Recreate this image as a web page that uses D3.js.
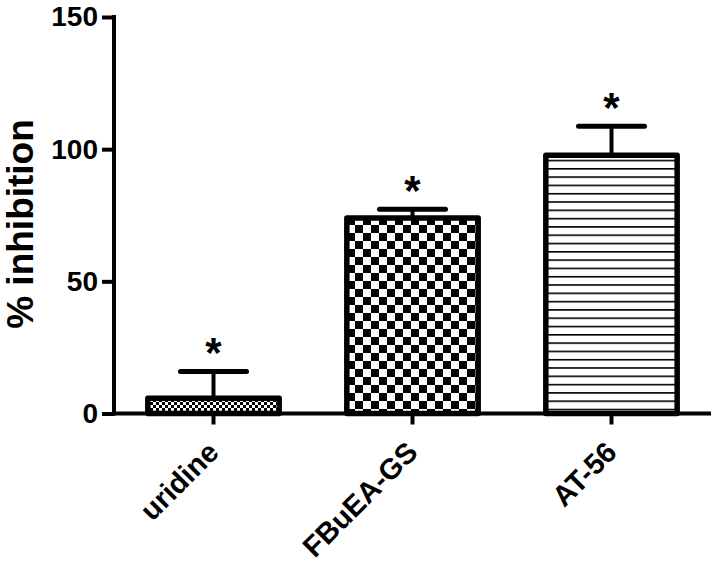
<!DOCTYPE html>
<html><head><meta charset="utf-8">
<script src="https://cdn.jsdelivr.net/npm/d3@7"></script>
<style>body{margin:0;background:#fff}</style>
</head><body>
<svg id="c" width="718" height="567"></svg>
<script>
const categories = ["uridine", "FBuEA-GS", "AT-56"];
const values = [5.8, 74, 97.7];
const errors = [10.1, 3.3, 11];
const yTicks = [0, 50, 100, 150];
const marks = ["*", "*", "*"];

const svg = d3.select("#c");
const font = "'Liberation Sans', Arial, sans-serif";
const X0 = 114, X1 = 711;
const x = d3.scaleBand().domain(categories).range([X0, X1]).paddingInner(0.34).paddingOuter(0.17);
const y = d3.scaleLinear().domain([0, 150]).range([413.5, 17]);

const defs = svg.append("defs");
// fine checker
const p1 = defs.append("pattern").attr("id","p1").attr("patternUnits","userSpaceOnUse").attr("width",6).attr("height",6);
p1.append("rect").attr("width",6).attr("height",6).attr("fill","#fff");
p1.append("rect").attr("width",3).attr("height",3).attr("fill","#000");
p1.append("rect").attr("x",3).attr("y",3).attr("width",3).attr("height",3).attr("fill","#000");
// coarse checker
const p2 = defs.append("pattern").attr("id","p2").attr("patternUnits","userSpaceOnUse").attr("width",16).attr("height",16).attr("x",3).attr("y",1);
p2.append("rect").attr("width",16).attr("height",16).attr("fill","#fff");
p2.append("rect").attr("width",8).attr("height",8).attr("fill","#000");
p2.append("rect").attr("x",8).attr("y",8).attr("width",8).attr("height",8).attr("fill","#000");
// horizontal lines
const p3 = defs.append("pattern").attr("id","p3").attr("patternUnits","userSpaceOnUse").attr("width",10).attr("height",8.3).attr("y",2);
p3.append("rect").attr("width",10).attr("height",8.3).attr("fill","#fff");
p3.append("rect").attr("y",0).attr("width",10).attr("height",1.6).attr("fill","#000");
const fills = ["url(#p1)", "url(#p2)", "url(#p3)"];

// error bars + significance marks
categories.forEach((c,i)=>{
  const cx = x(c) + x.bandwidth()/2;
  const top = y(values[i]+errors[i]);
  svg.append("line").attr("x1",cx).attr("x2",cx).attr("y1",y(values[i])).attr("y2",top)
    .attr("stroke","#000").attr("stroke-width",4);
  svg.append("line").attr("x1",cx-33).attr("x2",cx+33).attr("y1",top).attr("y2",top)
    .attr("stroke","#000").attr("stroke-width",5).attr("stroke-linecap","round");
  svg.append("text").attr("x",cx).attr("y",top-4).attr("text-anchor","middle")
    .attr("font-family",font).attr("font-weight","bold").attr("font-size",42).text(marks[i]);
});

// bars
svg.selectAll("rect.bar").data(categories).enter().append("rect").attr("class","bar")
  .attr("x",d=>x(d)).attr("width",x.bandwidth())
  .attr("y",(d,i)=>y(values[i])).attr("height",(d,i)=>y(0)-y(values[i]))
  .attr("fill",(d,i)=>fills[i]).attr("stroke","#000").attr("stroke-width",5.5).attr("stroke-linejoin","round");

// axes
const yAxis = svg.append("g").attr("transform",`translate(${X0},0)`)
  .call(d3.axisLeft(y).tickValues(yTicks).tickSize(12).tickPadding(4));
const xAxis = svg.append("g").attr("transform",`translate(0,${y(0)})`)
  .call(d3.axisBottom(x).tickSize(11).tickSizeOuter(0).tickFormat(""));
[yAxis, xAxis].forEach(g=>{
  g.select(".domain").attr("stroke","#000").attr("stroke-width",4);
  g.selectAll(".tick line").attr("stroke","#000").attr("stroke-width",4);
});
yAxis.select(".domain").attr("d",`M0,${y(150)-2}V${y(0)+2}`);
xAxis.select(".domain").attr("d",`M${X0},0H${X1}`);
yAxis.selectAll(".tick text").attr("font-family",font).attr("font-weight","bold").attr("font-size",28).attr("fill","#000");

// x labels rotated
categories.forEach(c=>{
  const cx = x(c)+x.bandwidth()/2;
  svg.append("text").attr("transform",`translate(${cx+7},${454}) rotate(-45)`)
    .attr("text-anchor","end")
    .attr("font-family",font).attr("font-weight","bold").attr("font-size",29).text(c);
});

// y label
svg.append("text").attr("transform","translate(33,224) rotate(-90)").attr("text-anchor","middle")
  .attr("font-family",font).attr("font-weight","bold").attr("font-size",37).text("% inhibition");
</script>
</body></html>
